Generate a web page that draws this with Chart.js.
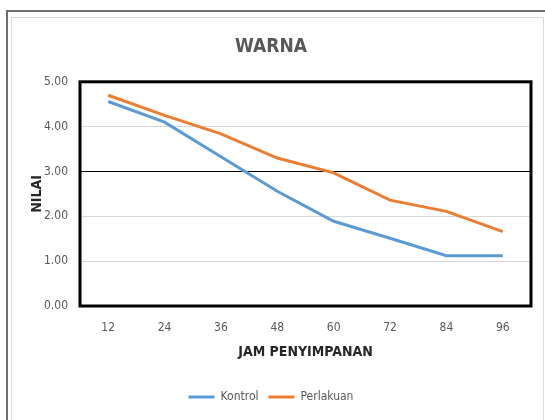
<!DOCTYPE html>
<html>
<head>
<meta charset="utf-8">
<script src="https://cdn.jsdelivr.net/npm/chart.js@4.4.1/dist/chart.umd.min.js"></script>
<style>
  html, body { margin: 0; padding: 0; background: #fff; }
  #wrap { position: relative; width: 545px; height: 420px; overflow: hidden; }
  #outer { position: absolute; left: 6px; top: 10px; width: 560px; height: 430px;
           border-top: 2px solid #6e6e6e; border-left: 2px solid #6e6e6e; }
  #inner { position: absolute; left: 11px; top: 17px; width: 531px; height: 430px;
           border: 1px solid #d9d9d9; }
  canvas { position: absolute; left: 0; top: 0; }
</style>
</head>
<body>
<div id="wrap">
  <div id="outer"></div>
  <div id="inner"></div>
  <canvas id="warna-chart" width="545" height="420"></canvas>
</div>
<script>
const hours = ["12", "24", "36", "48", "60", "72", "84", "96"];
const kontrol = [4.56, 4.10, 3.33, 2.56, 1.89, 1.51, 1.12, 1.12];
const perlakuan = [4.70, 4.25, 3.84, 3.30, 2.97, 2.36, 2.11, 1.66];
const yTicks = [0, 1, 2, 3, 4, 5];

const FONT = "'Liberation Sans Narrow', 'DejaVu Sans Condensed', 'Open Sans', sans-serif";
const GREY = '#595959';

// black frame round the plot area
const plotFrame = {
  id: 'plotFrame',
  afterDatasetsDraw(chart) {
    const { ctx, chartArea: a } = chart;
    ctx.save();
    ctx.strokeStyle = '#000';
    ctx.lineWidth = 3;
    ctx.strokeRect(a.left, a.top, a.right - a.left, a.bottom - a.top);
    ctx.restore();
  }
};

const ctx = document.getElementById("warna-chart");

new Chart(ctx, {
  type: 'line',
  data: {
    labels: hours,
    datasets: [
      {
        label: 'Kontrol',
        data: kontrol,
        borderColor: '#5B9BD5',
        backgroundColor: '#5B9BD5',
        borderWidth: 3,
        pointRadius: 0,
        tension: 0
      },
      {
        label: 'Perlakuan',
        data: perlakuan,
        borderColor: '#ED7D31',
        backgroundColor: '#ED7D31',
        borderWidth: 3,
        pointRadius: 0,
        tension: 0
      }
    ]
  },
  options: {
    responsive: false,
    animation: false,
    layout: { padding: { left: 11, right: 14, top: 17, bottom: 7 } },
    plugins: {
      title: {
        display: true,
        text: 'WARNA',
        color: GREY,
        font: { family: FONT, size: 19, weight: 'bold' },
        padding: { top: 19, bottom: 23 }
      },
      legend: {
        position: 'bottom',
        labels: {
          color: GREY,
          font: { family: FONT, size: 12 },
          boxWidth: 26,
          boxHeight: 3,
          padding: 10,
          generateLabels(chart) {
            return chart.data.datasets.map((ds, i) => ({
              text: ds.label,
              fillStyle: ds.borderColor,
              strokeStyle: ds.borderColor,
              lineWidth: 0,
              fontColor: GREY,
              datasetIndex: i
            }));
          }
        }
      },
      tooltip: { enabled: false }
    },
    scales: {
      x: {
        offset: true,
        grid: { display: false, drawTicks: false },
        border: { display: false },
        ticks: { color: GREY, font: { family: FONT, size: 12 }, padding: 15 },
        title: {
          display: true,
          text: 'JAM PENYIMPANAN',
          color: '#262626',
          font: { family: FONT, size: 14, weight: 'bold' },
          padding: { top: 10, bottom: 20 }
        },
        afterFit(scale) { scale.height = 75; }
      },
      y: {
        min: yTicks[0],
        max: yTicks[yTicks.length - 1],
        grid: {
          drawTicks: false,
          color: (c) => c.tick && c.tick.value === 3 ? '#000' : '#d9d9d9',
          lineWidth: 1
        },
        border: { display: false },
        ticks: {
          stepSize: 1,
          color: GREY,
          font: { family: FONT, size: 12 },
          padding: 12,
          callback: (v) => Number(v).toFixed(2)
        },
        title: {
          display: true,
          text: 'NILAI',
          color: '#262626',
          font: { family: FONT, size: 14, weight: 'bold' },
          padding: { top: 18, bottom: 0 }
        },
        afterFit(scale) { scale.width = 69; }
      }
    }
  },
  plugins: [plotFrame]
});
</script>
</body>
</html>
